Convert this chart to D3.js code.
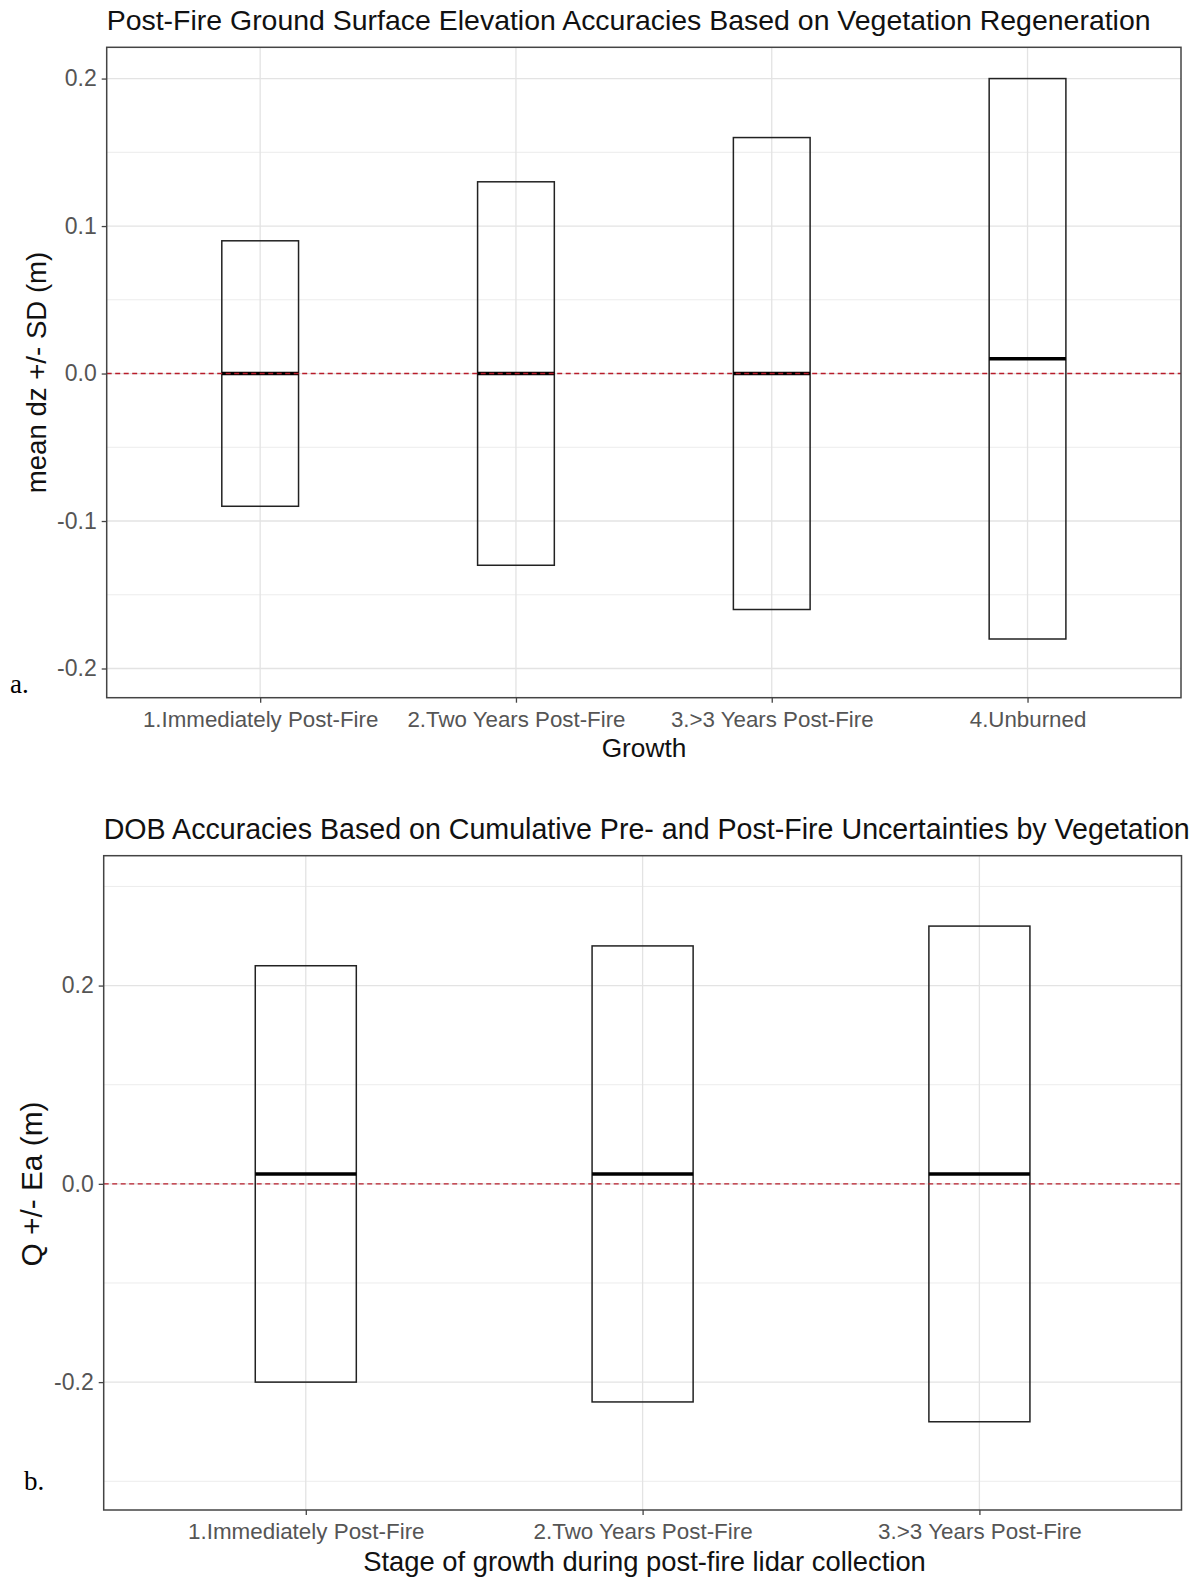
<!DOCTYPE html>
<html><head><meta charset="utf-8">
<script src="https://cdn.jsdelivr.net/npm/d3@7"></script>
<style>body{margin:0;background:#fff}svg{display:block}</style>
</head><body>
<svg id="c" width="1196" height="1578"></svg>
<script>
// ---- data: panel a ----
const catsA = ["1.Immediately Post-Fire","2.Two Years Post-Fire","3.>3 Years Post-Fire","4.Unburned"];
const meanA = [0.0, 0.0, 0.0, 0.01];
const lowA  = [-0.09, -0.13, -0.16, -0.18];
const highA = [0.09, 0.13, 0.16, 0.20];
const ticksA = [-0.2, -0.1, 0.0, 0.1, 0.2];
const minorA = [-0.15, -0.05, 0.05, 0.15];
// ---- data: panel b ----
const catsB = ["1.Immediately Post-Fire","2.Two Years Post-Fire","3.>3 Years Post-Fire"];
const meanB = [0.01, 0.01, 0.01];
const lowB  = [-0.20, -0.22, -0.24];
const highB = [0.22, 0.24, 0.26];
const ticksB = [-0.2, 0.0, 0.2];
const minorB = [-0.3, -0.1, 0.1, 0.3];

const svg = d3.select("#c");
const SANS = "'Liberation Sans', Arial, sans-serif";

function fit(t, w){
  const n = t.node(); const fs = parseFloat(t.attr("font-size"));
  const cur = n.getComputedTextLength();
  if(cur>0) t.attr("font-size", (fs*w/cur).toFixed(2));
}

function panel(o){
  const g = svg.append("g");
  const y = d3.scaleLinear().domain(o.ydom).range([o.bottom, o.top]);
  const n = o.cats.length;
  const x = d3.scaleLinear().domain([0.4, n+0.6]).range([o.left, o.right]);
  g.selectAll(".mn").data(o.minor).join("line")
    .attr("x1",o.left).attr("x2",o.right).attr("y1",d=>y(d)).attr("y2",d=>y(d))
    .attr("stroke","#ececec").attr("stroke-width",1);
  g.selectAll(".mj").data(o.ticks).join("line")
    .attr("x1",o.left).attr("x2",o.right).attr("y1",d=>y(d)).attr("y2",d=>y(d))
    .attr("stroke","#e3e3e3").attr("stroke-width",1.3);
  g.selectAll(".vx").data(o.cats).join("line")
    .attr("x1",(d,i)=>x(i+1)).attr("x2",(d,i)=>x(i+1)).attr("y1",o.top).attr("y2",o.bottom)
    .attr("stroke","#e3e3e3").attr("stroke-width",1.3);
  const bw = 0.3;
  g.selectAll(".box").data(o.cats).join("rect")
    .attr("x",(d,i)=>x(i+1-bw/2)).attr("width",x(1+bw)-x(1))
    .attr("y",(d,i)=>y(o.high[i])).attr("height",(d,i)=>y(o.low[i])-y(o.high[i]))
    .attr("fill","none").attr("stroke","#222").attr("stroke-width",1.5);
  g.selectAll(".mean").data(o.cats).join("line")
    .attr("x1",(d,i)=>x(i+1-bw/2)).attr("x2",(d,i)=>x(i+1+bw/2))
    .attr("y1",(d,i)=>y(o.mean[i])).attr("y2",(d,i)=>y(o.mean[i]))
    .attr("stroke","#000").attr("stroke-width",3.5);
  g.append("line").attr("x1",o.left).attr("x2",o.right).attr("y1",y(0)).attr("y2",y(0))
    .attr("stroke","#b81c2a").attr("stroke-width",1.4).attr("stroke-dasharray","5,3.5");
  g.append("rect").attr("x",o.left).attr("y",o.top).attr("width",o.right-o.left).attr("height",o.bottom-o.top)
    .attr("fill","none").attr("stroke","#444").attr("stroke-width",1.5);
  const ya = g.append("g").attr("transform",`translate(${o.left},0)`)
    .call(d3.axisLeft(y).tickValues(o.ticks).tickSize(5).tickPadding(5));
  ya.select(".domain").remove();
  ya.selectAll("line").attr("stroke","#444").attr("stroke-width",1.3);
  ya.selectAll("text").attr("font-family",SANS).attr("font-size",23).attr("fill","#555")
    .text(d=> d3.format(".1f")(d).replace("−","-"));
  const xa = g.append("g").attr("transform",`translate(0,${o.bottom})`)
    .call(d3.axisBottom(x).tickValues(d3.range(1,n+1)).tickFormat(i=>o.cats[i-1]).tickSize(5).tickPadding(6));
  xa.select(".domain").remove();
  xa.selectAll("line").attr("stroke","#444").attr("stroke-width",1.3);
  const xts = xa.selectAll("text").attr("font-family",SANS).attr("font-size",20).attr("fill","#555")
    .attr("dy",null).attr("dominant-baseline","middle").attr("y",o.catY-o.bottom);
  const firstLen = xts.nodes()[0].getComputedTextLength();
  xts.attr("font-size", (20*o.catW/firstLen).toFixed(2));
  const t = svg.append("text").attr("x",o.left).attr("y",o.titleY).attr("dominant-baseline","middle")
    .attr("font-family",SANS).attr("font-size",24).attr("fill","#111").text(o.title);
  fit(t, o.titleW);
  const xt = svg.append("text").attr("x",o.xtX).attr("y",o.xtY).attr("text-anchor","middle").attr("dominant-baseline","middle")
    .attr("font-family",SANS).attr("font-size",22).attr("fill","#111").text(o.xtitle);
  fit(xt, o.xtW);
  const yt = svg.append("text").attr("transform",`translate(${o.ytX},${o.ytY}) rotate(-90)`)
    .attr("text-anchor","middle").attr("dominant-baseline","middle")
    .attr("font-family",SANS).attr("font-size",22).attr("fill","#111").text(o.ytitle);
  fit(yt, o.ytW);
  svg.append("text").attr("x",o.tagX).attr("y",o.tagY).attr("dominant-baseline","middle")
    .attr("font-family","'Liberation Serif','Times New Roman',serif").attr("font-size",27).attr("fill","#000").text(o.tag);
}

panel({cats:catsA, mean:meanA, low:lowA, high:highA, ticks:ticksA, minor:minorA,
  ydom:[-0.2198,0.2212], left:106.7, right:1181, top:47.3, bottom:697.7,
  catY:721, catW:235.6,
  title:"Post-Fire Ground Surface Elevation Accuracies Based on Vegetation Regeneration", titleY:22.5, titleW:1044,
  xtitle:"Growth", xtX:644, xtY:750, xtW:84.6,
  ytitle:"mean dz +/- SD (m)", ytX:38.3, ytY:372.5, ytW:241.6,
  tag:"a.", tagX:10, tagY:687});

panel({cats:catsB, mean:meanB, low:lowB, high:highB, ticks:ticksB, minor:minorB,
  ydom:[-0.329,0.331], left:103.7, right:1181.5, top:855.7, bottom:1510,
  catY:1533.5, catW:236.6,
  title:"DOB Accuracies Based on Cumulative Pre- and Post-Fire Uncertainties by Vegetation", titleY:831, titleW:1086,
  xtitle:"Stage of growth during post-fire lidar collection", xtX:644.5, xtY:1563.5, xtW:562.8,
  ytitle:"Q +/- Ea (m)", ytX:34.5, ytY:1184, ytW:165,
  tag:"b.", tagX:24, tagY:1484});
</script>
</body></html>
